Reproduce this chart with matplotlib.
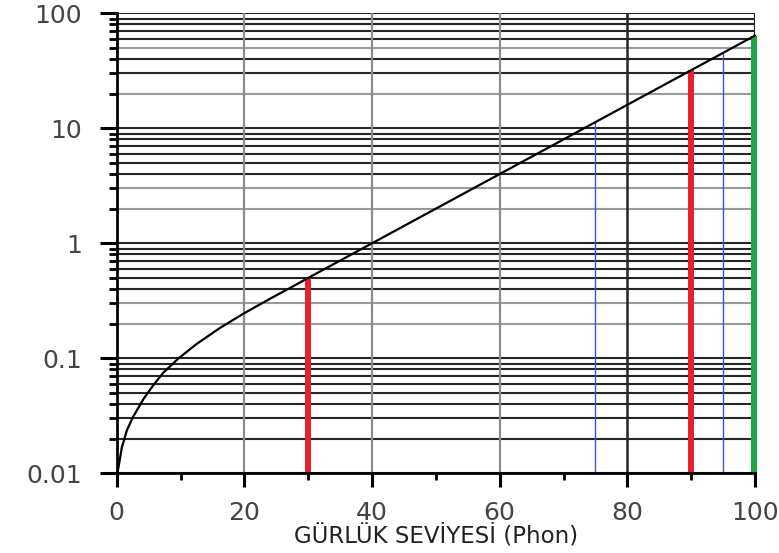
import matplotlib
matplotlib.use("Agg")
import matplotlib.pyplot as plt
from matplotlib.ticker import FixedLocator, NullFormatter

# ---- data ----
phon = [0, 0.25, 0.8, 1.6, 2.6, 4.2, 5.7, 7.3, 9.7, 12.5, 16.2, 20, 24, 27.4, 30,
        40, 50, 60, 70, 80, 90, 100]
sone = [0.010, 0.011, 0.0167, 0.0237, 0.0312, 0.0443, 0.058, 0.075, 0.100, 0.133,
        0.184, 0.247, 0.329, 0.416, 0.50, 1.0, 2.0, 4.0, 8.0, 16.0, 32.0, 64.0]

red_phon = [30, 90]
red_sone = [0.5, 32]
blue_phon = [75, 95]
blue_sone = [11.3, 45.3]
green_phon = [99.8]
green_sone = [64]

x_major = [0, 20, 40, 60, 80, 100]
x_minor = [10, 30, 50, 70, 90]
y_major = [0.01, 0.1, 1, 10, 100]
y_labels = ["0.01", "0.1", "1", "10", "100"]
xlabel = "GÜRLÜK SEVİYESİ (Phon)"

# ---- figure ----
fig = plt.figure(figsize=(7.79, 5.53), dpi=100)
ax = fig.add_axes([0.1498, 0.1441, 0.9692 - 0.1498, 0.976 - 0.1441])
ax.set_yscale("log")
ax.set_xlim(0, 100)
ax.set_ylim(0.01, 100)

dark = "#262626"
gray = "#9a9a9a"
gray_vals = {0.2, 0.3, 2, 3, 20, 50}

# horizontal grid lines
for d in [0.01, 0.1, 1, 10]:
    for m in range(1, 10):
        v = round(d * m, 6)
        c = gray if v in gray_vals else dark
        ax.axhline(v, color=c, lw=1.5, zorder=1)
ax.axhline(100, color=dark, lw=1.5, zorder=1)

# vertical grid lines
for xv in [20, 40, 60]:
    ax.axvline(xv, color="#8c8c8c", lw=1.6, zorder=1)
ax.axvline(80, color=dark, lw=1.8, zorder=1)
ax.axvline(100, color=dark, lw=1.6, zorder=1)

# markers
ax.vlines(red_phon, 0.01, red_sone, color="#e8202a", lw=4.3, zorder=3)
ax.vlines(blue_phon, 0.01, blue_sone, color="#4b4bea", lw=1.0, zorder=3)
ax.vlines(green_phon, 0.01, green_sone, color="#22a548", lw=4.3, zorder=3,
          clip_on=False)

# curve
ax.plot(phon, sone, color="black", lw=1.6, zorder=4, solid_capstyle="round",
        solid_joinstyle="round", clip_on=False)

# spines
for s in ["top", "right"]:
    ax.spines[s].set_visible(False)
for s in ["left", "bottom"]:
    ax.spines[s].set_linewidth(2.0)
    ax.spines[s].set_color("black")
ax.spines["left"].set_zorder(5)
ax.spines["bottom"].set_zorder(5)

# ticks
ax.xaxis.set_major_locator(FixedLocator(x_major))
ax.xaxis.set_minor_locator(FixedLocator(x_minor))
ax.xaxis.set_minor_formatter(NullFormatter())
ax.set_xticklabels([str(v) for v in x_major])
ax.yaxis.set_major_locator(FixedLocator(y_major))
ax.set_yticklabels(y_labels)
ax.yaxis.set_minor_locator(FixedLocator(
    [d * m for d in [0.01, 0.1, 1, 10] for m in range(2, 10)]))
ax.yaxis.set_minor_formatter(NullFormatter())

ax.tick_params(axis="y", which="major", length=12, width=2.2, pad=13,
               labelsize=18, labelcolor="#444444", direction="out")
ax.tick_params(axis="y", which="minor", length=6, width=2.0, direction="out")
ax.tick_params(axis="x", which="major", length=10, width=2.2, pad=10,
               labelsize=18, labelcolor="#444444", direction="out")
ax.tick_params(axis="x", which="minor", length=5, width=2.0, direction="out")

for lbl in ax.get_xticklabels() + ax.get_yticklabels():
    lbl.set_family("DejaVu Sans")

ax.set_xlabel(xlabel, fontsize=16.5, family="DejaVu Sans", color="#222222",
              labelpad=-1)

fig.savefig("out.png", dpi=100)
